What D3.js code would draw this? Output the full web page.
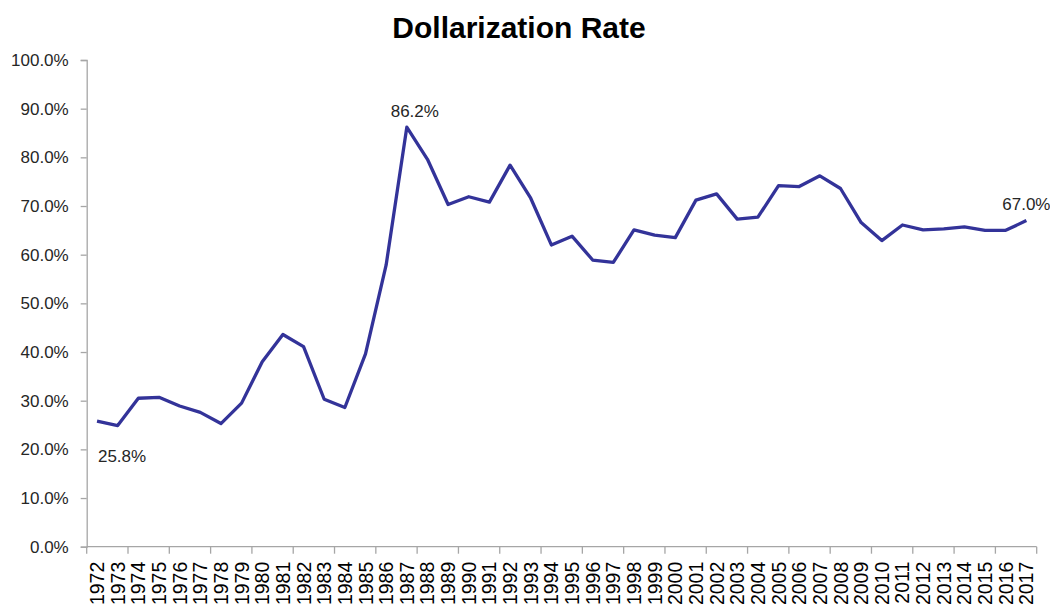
<!DOCTYPE html>
<html><head><meta charset="utf-8">
<script src="https://cdn.jsdelivr.net/npm/d3@7"></script>
<style>body{margin:0;background:#fff}svg{display:block}</style>
</head><body>
<svg id="c" width="1050" height="608"></svg>
<script>
const years = d3.range(1972, 2018).map(String);
const rates = [25.8,24.9,30.5,30.7,28.9,27.6,25.3,29.5,38.0,43.6,41.1,30.3,28.6,39.6,57.9,86.2,
  79.6,70.3,71.9,70.8,78.4,71.6,62.0,63.8,58.9,58.4,65.1,64.0,63.5,71.2,72.5,
  67.3,67.7,74.2,74.0,76.2,73.6,66.6,62.9,66.1,65.1,65.3,65.7,65.0,65.0,67.0];
const yTicks = [0,10,20,30,40,50,60,70,80,90,100];
const labelled = ["1972","1987","2017"];
const title = "Dollarization Rate";

(function(){
const svg = d3.select("#c");
const mL = 86.7, mR = 1036.7, mT = 60, mB = 546.7;
const x = d3.scaleBand().domain(years).range([mL, mR]);
const y = d3.scaleLinear().domain([0,100]).range([mB, mT]);
const axisColor = "#a6a6a6";
const font = "'Liberation Sans', Arial, sans-serif";

svg.append("text").attr("x", 519).attr("y", 38).attr("text-anchor","middle")
  .attr("font-family", font).attr("font-weight","bold").attr("font-size", 30)
  .attr("fill","#000").text(title);

// y axis
const ya = svg.append("g").attr("transform", `translate(${mL},0)`)
  .call(d3.axisLeft(y).tickValues(yTicks).tickSize(6).tickPadding(12).tickFormat(d => d.toFixed(1) + "%"));
ya.select(".domain").attr("stroke", axisColor).attr("stroke-width",1.3);
ya.selectAll(".tick line").attr("stroke", axisColor).attr("stroke-width",1.3);
ya.selectAll(".tick text").attr("font-family", font).attr("font-size", 17).attr("fill","#262626");

// x axis: ticks every two categories, labels every category
const xa = svg.append("g").attr("transform", `translate(0,${mB})`);
xa.append("line").attr("x1", mL).attr("x2", mR).attr("stroke", axisColor).attr("stroke-width",1.3);
const tickYears = years.filter((d,i) => i % 2 === 0);
xa.selectAll("line.tk").data(tickYears.concat(["end"])).join("line").attr("class","tk")
  .attr("x1", d => d === "end" ? mR : x(d)).attr("x2", d => d === "end" ? mR : x(d))
  .attr("y1", 0).attr("y2", 7).attr("stroke", axisColor).attr("stroke-width",1.3);
xa.selectAll("text").data(years).join("text")
  .attr("transform", d => `translate(${x(d) + x.bandwidth()/2 + 7},15) rotate(-90)`)
  .attr("text-anchor","end").attr("font-family", font).attr("font-size", 19.5).attr("fill","#000")
  .text(d => d);

// line
const cx = d => x(d) + x.bandwidth()/2;
const data = years.map((d,i) => ({year:d, v:rates[i]}));
svg.append("path").datum(data)
  .attr("d", d3.line().x(d => cx(d.year)).y(d => y(d.v)))
  .attr("fill","none").attr("stroke","#333399").attr("stroke-width",3.3).attr("stroke-linejoin","round");

// data labels
const offsets = {"1972":[25,41], "1987":[8,-10.5], "2017":[0,-10.5]};
svg.selectAll("text.dl").data(data.filter(d => labelled.includes(d.year))).join("text")
  .attr("class","dl")
  .attr("x", d => cx(d.year) + offsets[d.year][0]).attr("y", d => y(d.v) + offsets[d.year][1])
  .attr("text-anchor","middle").attr("font-family", font).attr("font-size", 17).attr("fill","#262626")
  .text(d => d.v.toFixed(1) + "%");
})();
</script>
</body></html>
